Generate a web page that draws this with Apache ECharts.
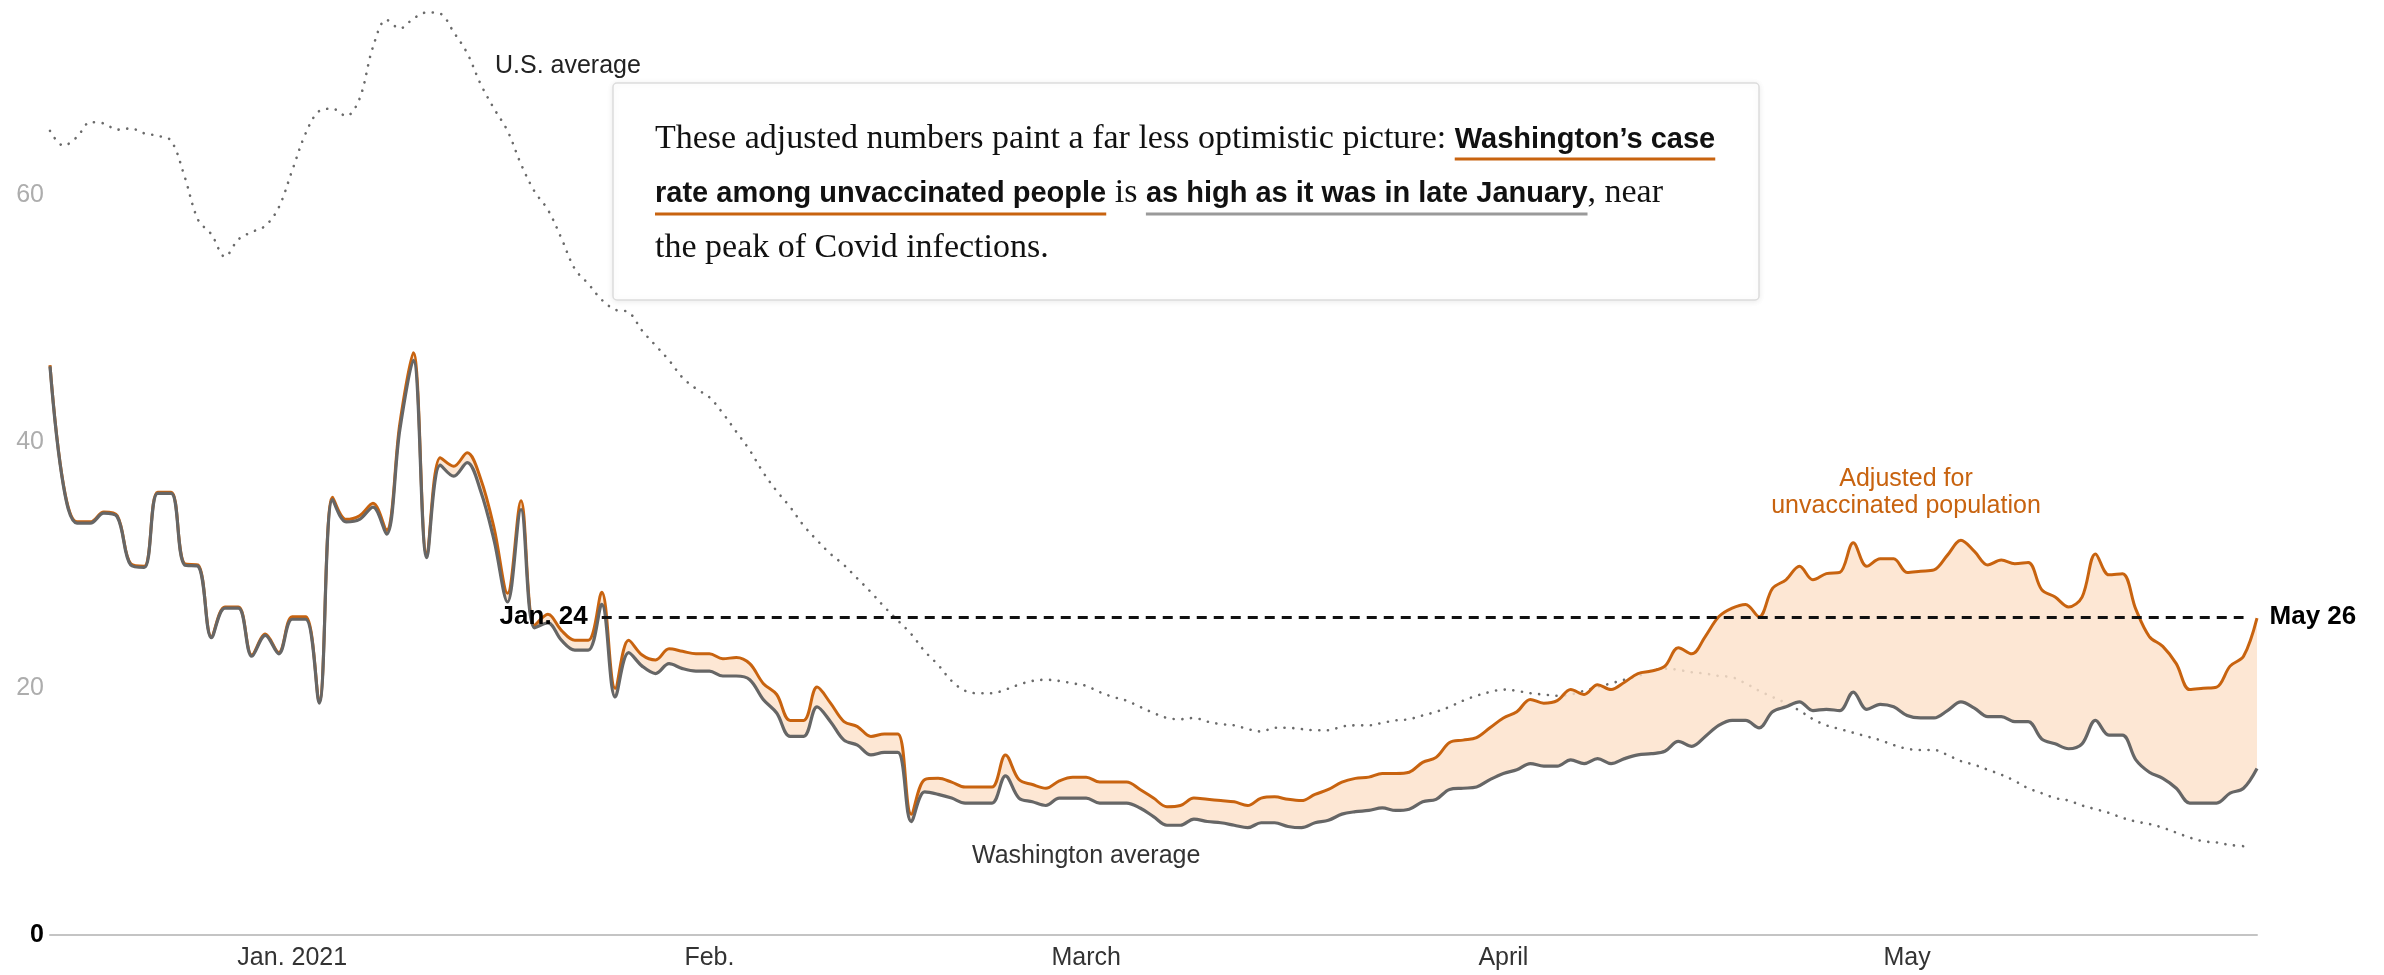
<!DOCTYPE html>
<html><head><meta charset="utf-8">
<script src="https://cdn.jsdelivr.net/npm/echarts@6/dist/echarts.min.js"></script>
<style>html,body{margin:0;padding:0;background:#fff;}#chart{width:2384px;height:975px;}</style>
</head><body><div id="chart"></div>
<script>
// ---------- data ----------
const startDate = [2020, 11, 14]; // Dec 14, 2020 (UTC y, m0, d)
const tickDates = ['2021-01-01', '2021-02-01', '2021-03-01', '2021-04-01', '2021-05-01'];
const tickLabels = ['Jan. 2021', 'Feb.', 'March', 'April', 'May'];
const yTicks = [0, 20, 40, 60];

const washington = [
  46.1, 36.4, 33.4, 33.4, 34.2, 33.9, 30.0, 29.8, 35.8, 35.8,
  30.0, 29.9, 24.1, 26.5, 26.5, 22.6, 24.3, 22.8, 25.6, 25.6,
  18.8, 35.3, 33.5, 33.7, 34.7, 32.5, 41.0, 46.6, 30.6, 38.1,
  37.2, 38.3, 36.0, 32.0, 27.0, 34.5, 24.9, 25.3, 23.9, 23.1,
  23.1, 26.8, 19.3, 22.9, 21.8, 21.2, 22.0, 21.6, 21.4, 21.4,
  21.0, 21.0, 20.7, 19.1, 18.0, 16.1, 16.1, 18.5, 17.3, 15.8,
  15.4, 14.6, 14.8, 14.8, 9.2, 11.6, 11.4, 11.1, 10.7, 10.7,
  10.7, 12.9, 11.1, 10.8, 10.5, 11.1, 11.1, 11.1, 10.7, 10.7,
  10.7, 10.3, 9.6, 8.9, 8.9, 9.4, 9.2, 9.1, 8.9, 8.7,
  9.1, 9.1, 8.8, 8.7, 9.1, 9.3, 9.8, 10.0, 10.1, 10.3,
  10.1, 10.2, 10.8, 11.0, 11.8, 11.9, 12.0, 12.6, 13.1, 13.4,
  13.9, 13.7, 13.7, 14.2, 13.9, 14.3, 13.9, 14.3, 14.6, 14.7,
  14.9, 15.7, 15.3, 16.1, 17.0, 17.4, 17.4, 16.8, 18.1, 18.5,
  18.9, 18.2, 18.3, 18.2, 19.7, 18.3, 18.7, 18.5, 17.8, 17.6,
  17.6, 18.2, 18.9, 18.4, 17.7, 17.7, 17.3, 17.3, 15.9, 15.5,
  15.1, 15.5, 17.4, 16.2, 16.2, 14.2, 13.2, 12.7, 11.9, 10.7,
  10.7, 10.7, 11.5, 11.9, 13.5
];

const adjusted = [
  46.2, 36.5, 33.5, 33.5, 34.3, 34.0, 30.1, 29.9, 35.9, 35.9,
  30.1, 30.0, 24.2, 26.6, 26.6, 22.7, 24.4, 22.9, 25.8, 25.8,
  18.9, 35.5, 33.7, 34.0, 35.0, 32.8, 41.5, 47.2, 30.8, 38.7,
  38.0, 39.1, 37.0, 33.0, 27.7, 35.2, 25.1, 26.0, 24.7, 23.9,
  23.9, 27.8, 20.0, 23.9, 22.7, 22.3, 23.2, 23.0, 22.8, 22.8,
  22.4, 22.5, 22.0, 20.4, 19.5, 17.4, 17.4, 20.1, 18.8, 17.3,
  16.9, 16.1, 16.3, 16.3, 9.8, 12.6, 12.7, 12.4, 12.0, 12.0,
  12.0, 14.6, 12.6, 12.2, 11.9, 12.5, 12.8, 12.8, 12.4, 12.4,
  12.4, 11.8, 11.1, 10.4, 10.5, 11.1, 11.0, 10.9, 10.8, 10.5,
  11.1, 11.2, 11.0, 10.9, 11.4, 11.8, 12.4, 12.7, 12.8, 13.1,
  13.1, 13.2, 14.0, 14.4, 15.6, 15.8, 16.0, 16.8, 17.6, 18.1,
  19.1, 18.8, 19.0, 19.9, 19.5, 20.3, 19.9, 20.5, 21.2, 21.4,
  21.8, 23.3, 22.8, 24.2, 25.8, 26.5, 26.8, 25.8, 28.1, 28.8,
  29.9, 28.8, 29.3, 29.4, 31.8, 29.9, 30.5, 30.5, 29.4, 29.5,
  29.6, 30.8, 32.0, 31.1, 30.0, 30.4, 30.1, 30.2, 28.0, 27.4,
  26.6, 27.4, 30.9, 29.2, 29.3, 26.4, 24.2, 23.4, 22.0, 19.9,
  20.0, 20.1, 21.8, 22.6, 25.7
];

const usAverage = [
  65.2, 64.0, 64.7, 65.9, 65.8, 65.3, 65.4, 65.0, 64.8, 64.4,
  61.5, 58.0, 56.8, 55.0, 56.4, 57.0, 57.5, 59.0, 62.0, 65.0,
  66.8, 67.0, 66.4, 67.8, 72.0, 74.2, 73.5, 74.3, 74.8, 74.7,
  73.2, 71.5, 69.0, 67.0, 65.2, 62.5, 60.3, 58.8, 56.5, 54.0,
  52.8, 51.5, 50.7, 50.5, 49.0, 47.8, 46.6, 45.2, 44.3, 43.6,
  42.3, 40.8, 39.3, 37.5, 36.0, 34.7, 33.2, 32.0, 30.9, 30.0,
  28.9, 27.8, 26.6, 25.5, 24.4, 23.0, 21.9, 20.6, 19.8, 19.6,
  19.6, 19.9, 20.3, 20.6, 20.7, 20.6, 20.4, 20.2, 19.7, 19.3,
  19.0, 18.5, 18.0, 17.6, 17.5, 17.6, 17.3, 17.1, 17.0, 16.7,
  16.5, 16.8, 16.8, 16.7, 16.6, 16.6, 16.9, 17.0, 17.0, 17.2,
  17.4, 17.5, 17.8, 18.1, 18.5, 19.0, 19.4, 19.7, 19.9, 19.8,
  19.6, 19.5, 19.4, 19.5, 19.8, 20.1, 20.4, 20.7, 21.0, 21.4,
  21.6, 21.5, 21.3, 21.2, 21.0, 20.9, 20.4, 19.8, 19.3, 18.8,
  18.2, 17.5, 17.0, 16.7, 16.4, 16.1, 15.8, 15.4, 15.1, 15.0,
  15.0, 14.6, 14.1, 13.8, 13.4, 13.0, 12.5, 11.9, 11.5, 11.1,
  10.9, 10.5, 10.2, 9.9, 9.5, 9.2, 9.0, 8.7, 8.3, 7.9,
  7.6, 7.5, 7.3, 7.2, null
];

const refLine = { from: '2021-01-24', to: '2021-05-26', value: 25.8, startLabel: 'Jan. 24', endLabel: 'May 26' };

// ---------- derived ----------
const dates = [];
(function () {
  const t0 = Date.UTC(startDate[0], startDate[1], startDate[2]);
  for (let i = 0; i < washington.length; i++) {
    dates.push(new Date(t0 + i * 86400000).toISOString().slice(0, 10));
  }
})();
const bandHeight = adjusted.map((v, i) => +(v - washington[i]).toFixed(2));

const ORANGE = '#c8630f';
const GREY = '#666666';
const SANS = '"Liberation Sans", Arial, sans-serif';
const SERIF = '"Liberation Serif", "Times New Roman", serif';

// ---------- annotation box layout ----------
const mctx = document.createElement('canvas').getContext('2d');
function tw(text, font) { mctx.font = font; mctx.textBaseline = 'alphabetic'; return mctx.measureText(text).width; }
function midToBase(font) { mctx.font = font; mctx.textBaseline = 'middle'; const m = mctx.measureText('H'); mctx.textBaseline = 'alphabetic'; return m.actualBoundingBoxDescent || 0; }
const nFont = 'normal 34px ' + SERIF;
const bFont = 'bold 29px ' + SANS;
const annLines = [
  [{ t: 'These adjusted numbers paint a far less optimistic picture: ', b: false },
   { t: 'Washington\u2019s case', b: true, u: ORANGE }],
  [{ t: 'rate among unvaccinated people', b: true, u: ORANGE },
   { t: ' is ', b: false },
   { t: 'as high as it was in late January', b: true, u: '#9a9a9a' },
   { t: ', near', b: false }],
  [{ t: 'the peak of Covid infections.', b: false }]
];
const annX = 655, annBase = [148, 202, 257], annUnder = [159, 214, 269];
const annGraphics = [{
  type: 'rect', shape: { x: 613, y: 83, width: 1146, height: 217, r: 4 },
  style: { fill: '#fff', stroke: '#dcdcdc', lineWidth: 1.5, shadowBlur: 6, shadowColor: 'rgba(0,0,0,0.08)', shadowOffsetY: 1 },
  z: 100
}];
annLines.forEach((line, li) => {
  let x = annX;
  line.forEach(seg => {
    const fontStr = seg.b ? bFont : nFont;
    const w = tw(seg.t, fontStr);
    const off = midToBase(fontStr);
    annGraphics.push({
      type: 'text', x: x, y: annBase[li] - off, z: 101,
      style: { text: seg.t, font: fontStr, fill: '#111', textAlign: 'left', textVerticalAlign: 'middle' }
    });
    if (seg.u) {
      annGraphics.push({
        type: 'line', z: 101,
        shape: { x1: x, y1: annUnder[li], x2: x + w, y2: annUnder[li] },
        style: { stroke: seg.u, lineWidth: 3 }
      });
    }
    x += w;
  });
});

const labelGraphics = [
  { type: 'text', x: 495, y: 66, z: 50, style: { text: 'U.S. average', font: '25px ' + SANS, fill: '#222', textVerticalAlign: 'middle' } },
  { type: 'text', x: 972, y: 856, z: 50, style: { text: 'Washington average', font: '25px ' + SANS, fill: '#333', textVerticalAlign: 'middle' } },
  { type: 'text', x: 1906, y: 479, z: 50, style: { text: 'Adjusted for', font: '25px ' + SANS, fill: ORANGE, textAlign: 'center', textVerticalAlign: 'middle' } },
  { type: 'text', x: 1906, y: 506, z: 50, style: { text: 'unvaccinated population', font: '25px ' + SANS, fill: ORANGE, textAlign: 'center', textVerticalAlign: 'middle' } }
];

// ---------- chart ----------
const chart = echarts.init(document.getElementById('chart'), null, { renderer: 'canvas' });
const smoothK = 0.35;
chart.setOption({
  animation: false,
  backgroundColor: '#ffffff',
  grid: { left: 50, right: 127, top: 10, bottom: 40, containLabel: false },
  xAxis: {
    type: 'category', data: dates, boundaryGap: false,
    axisLine: { show: true, lineStyle: { color: '#c4c4c4', width: 2 } },
    axisTick: { show: false },
    splitLine: { show: false },
    axisLabel: {
      interval: (idx, val) => tickDates.indexOf(val) >= 0,
      formatter: val => { const k = tickDates.indexOf(val); return k >= 0 ? tickLabels[k] : ''; },
      color: '#333', fontFamily: SANS, fontSize: 25, margin: 11
    }
  },
  yAxis: {
    type: 'value', min: 0, max: 75, interval: 20,
    axisLine: { show: false }, axisTick: { show: false }, splitLine: { show: false },
    axisLabel: {
      margin: 6, fontFamily: SANS, fontSize: 25, color: '#adadad',
      formatter: v => (yTicks.indexOf(v) < 0 ? '' : (v === 0 ? '{z|0}' : String(v))),
      rich: { z: { fontFamily: SANS, fontSize: 25, fontWeight: 'bold', color: '#000' } }
    }
  },
  series: [
    {
      name: 'U.S. average', type: 'line', data: usAverage, smooth: smoothK, showSymbol: false, silent: true, z: 1,
      lineStyle: { color: '#6a6a6a', width: 2.6, type: [0.1, 8.6], cap: 'round' }
    },
    {
      name: 'band-base', type: 'line', stack: 'band', data: washington, smooth: smoothK, showSymbol: false, silent: true, z: 2,
      lineStyle: { opacity: 0 }
    },
    {
      name: 'band', type: 'line', stack: 'band', data: bandHeight, smooth: smoothK, showSymbol: false, silent: true, z: 2,
      lineStyle: { opacity: 0 },
      areaStyle: { color: 'rgb(252,226,203)', opacity: 0.82 }
    },
    {
      name: 'Adjusted for unvaccinated population', type: 'line', data: adjusted, smooth: smoothK, showSymbol: false, silent: true, z: 3,
      lineStyle: { color: ORANGE, width: 3 }
    },
    {
      name: 'Washington average', type: 'line', data: washington, smooth: smoothK, showSymbol: false, silent: true, z: 4,
      lineStyle: { color: GREY, width: 3.2 },
      markLine: {
        silent: true, symbol: ['none', 'none'], animation: false,
        lineStyle: { color: '#111', type: [10, 7], width: 3 },
        label: { show: true, position: 'end', distance: 26, formatter: refLine.endLabel, fontFamily: SANS, fontSize: 26, fontWeight: 'bold', color: '#000' },
        data: [[{ coord: [refLine.from, refLine.value] }, { coord: [refLine.to, refLine.value] }]]
      },
      markPoint: {
        silent: true, symbol: 'circle', symbolSize: 0, animation: false,
        data: [{ coord: [refLine.from, refLine.value], value: refLine.startLabel }],
        label: { show: true, position: 'left', distance: 14, formatter: refLine.startLabel, fontFamily: SANS, fontSize: 26, fontWeight: 'bold', color: '#000' }
      }
    }
  ],
  graphic: { elements: labelGraphics.concat(annGraphics) }
});
</script>
</body></html>
